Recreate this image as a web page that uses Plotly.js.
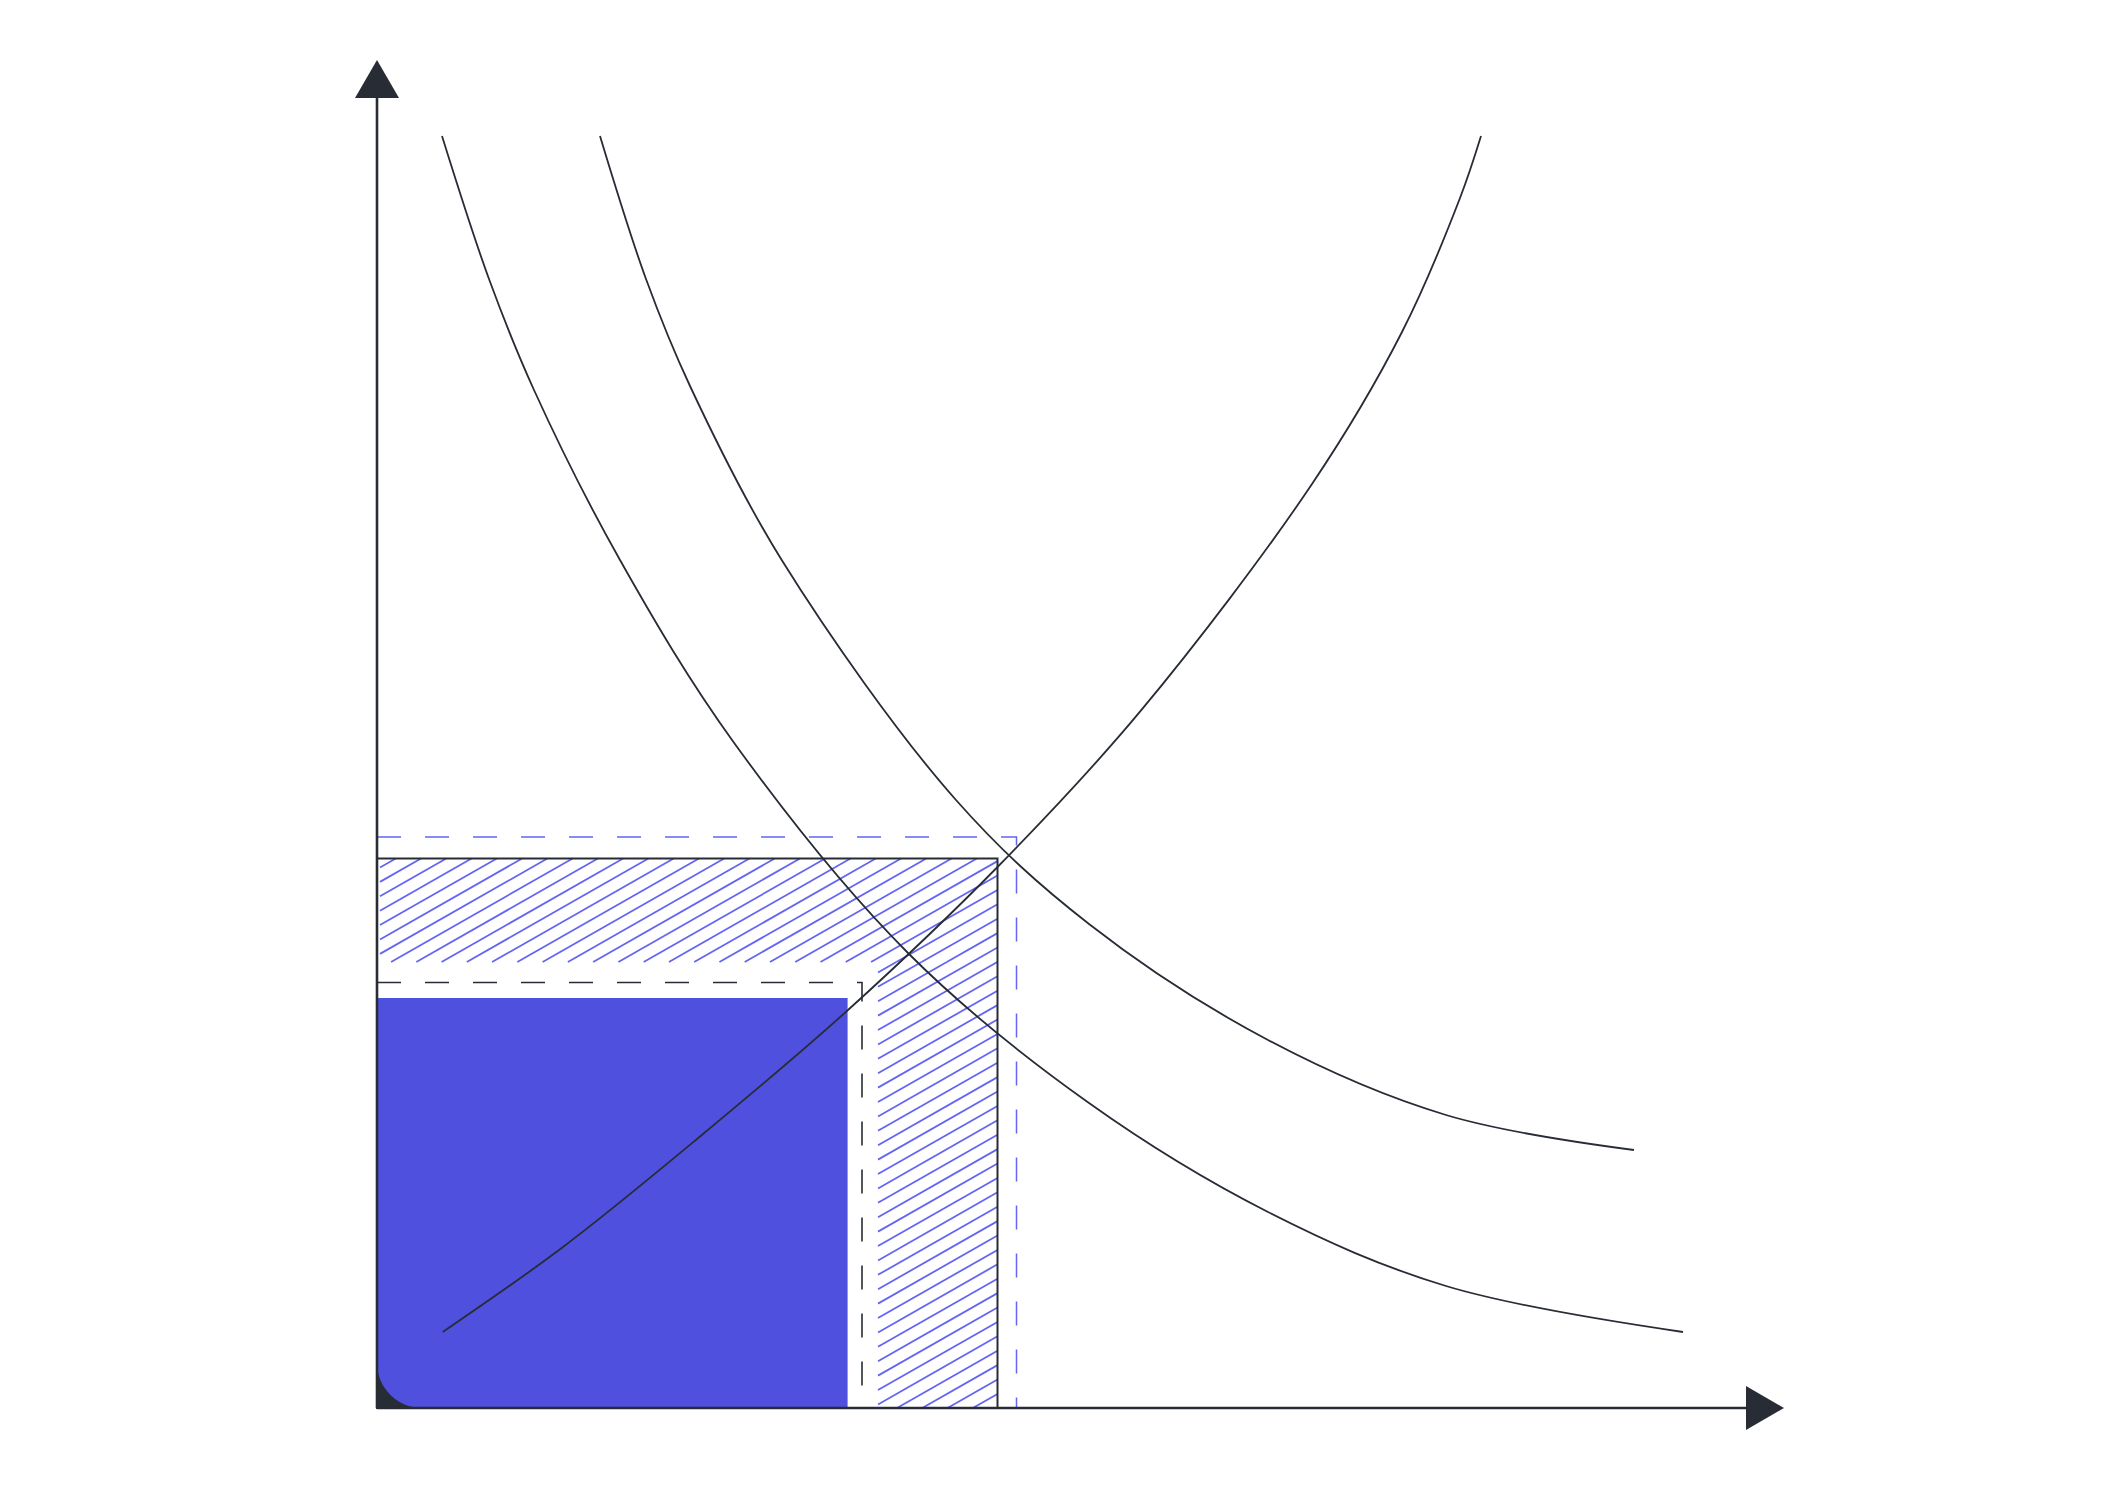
<!DOCTYPE html>
<html>
<head>
<meta charset="utf-8">
<script src="https://cdn.plot.ly/plotly-3.0.1.min.js"></script>
<style>html,body{margin:0;padding:0;background:#fff;}#chart{width:2101px;height:1501px;}</style>
</head>
<body>
<div id="chart"></div>
<script>
// ---- Data (quantity on x, price on y) ----
const supplyQ = [6.57, 18.6, 32.0, 47.1, 62.05, 76.3, 93.5, 102.5, 108.3, 110.4];
const supplyP = [7.6, 16.1, 26.9, 39.8, 54.1, 69.63, 92.4, 107.6, 121.0, 127.2];

const demand1Q = [6.5, 11.2, 15.7, 24.3, 35.63, 53.2, 71.2, 89.1, 106.9, 130.6];
const demand1P = [127.2, 112.9, 101.8, 84.8, 66.63, 45.4, 30.5, 19.6, 12.2, 7.6];

const demand2Q = [22.3, 26.9, 31.3, 40.47, 57.9, 71.2, 89.1, 106.9, 125.7];
const demand2P = [127.2, 112.9, 102.2, 84.8, 60.8, 48.4, 36.8, 29.3, 25.8];

// [quantity, price] corners of the areas
const filledArea = [47.06, 41.0];
const dashedBlackLevel = [48.5, 42.55];
const solidBox = [62.05, 54.95];
const dashedBlueLevel = [63.95, 57.1];
const hatchInner = [50.1, 44.6];
const cornerRadius = 4.5;
const axisEnd = [140.7, 134.8];

// ---- Styles ----
const DARK = '#272c35';
const INDIGO = '#6366f1';
const FILL = '#4f51de';

// hatch segments inside a rectangle, slope m, vertical spacing s
function hatch(x0, x1, y0, y1, m, s, phase) {
  const xs = [], ys = [];
  const bMin = y0 - m * x1, bMax = y1 - m * x0;
  let k = Math.ceil((bMin - phase) / s);
  for (let b = phase + k * s; b <= bMax; b += s) {
    let xa = Math.max(x0, (y0 - b) / m);
    let xb = Math.min(x1, (y1 - b) / m);
    if (xb - xa > 1e-6) {
      xs.push(xa, xb, null);
      ys.push(m * xa + b, m * xb + b, null);
    }
  }
  return [xs, ys];
}
const m = 0.57, sp = 1.44, ph = 0.6;
const h1 = hatch(0.3, solidBox[0], hatchInner[1], solidBox[1], m, sp, ph);
const h2 = hatch(hatchInner[0], solidBox[0], 0, hatchInner[1], m, sp, ph);

const lineStyle = {color: DARK, width: 1.8, shape: 'spline', smoothing: 1};

const traces = [
  {x: h1[0].concat(h2[0]), y: h1[1].concat(h2[1]), mode: 'lines', line: {color: INDIGO, width: 1.8}, hoverinfo: 'skip'},
  {x: supplyQ, y: supplyP, mode: 'lines', line: lineStyle, name: 'S'},
  {x: demand1Q, y: demand1P, mode: 'lines', line: lineStyle, name: 'D1'},
  {x: demand2Q, y: demand2P, mode: 'lines', line: lineStyle, name: 'D2'}
];

const r = cornerRadius;
const [fq, fp] = filledArea;
const shapes = [
  {type: 'rect', xref: 'x', yref: 'y', x0: 0, x1: r, y0: 0, y1: r, fillcolor: DARK, line: {width: 0}, layer: 'below'},
  {type: 'path', xref: 'x', yref: 'y', layer: 'below',
   path: `M ${r},0 L ${fq},0 L ${fq},${fp} L 0,${fp} L 0,${r} C 0,${r*0.45} ${r*0.45},0 ${r},0 Z`,
   fillcolor: FILL, line: {width: 0}},
  {type: 'path', xref: 'x', yref: 'y', path: `M 0,${dashedBlueLevel[1]} L ${dashedBlueLevel[0]},${dashedBlueLevel[1]} L ${dashedBlueLevel[0]},0`,
   line: {color: INDIGO, width: 1.5, dash: '24px,24px'}},
  {type: 'path', xref: 'x', yref: 'y', path: `M 0,${dashedBlackLevel[1]} L ${dashedBlackLevel[0]},${dashedBlackLevel[1]} L ${dashedBlackLevel[0]},0`,
   line: {color: DARK, width: 1.6, dash: '24px,24px'}},
  {type: 'rect', xref: 'x', yref: 'y', x0: 0, x1: solidBox[0], y0: 0, y1: solidBox[1], line: {color: DARK, width: 2}, fillcolor: 'rgba(0,0,0,0)'},
  {type: 'line', xref: 'x', yref: 'y', x0: 0, y0: 0, x1: 0, y1: axisEnd[1] - 3.8, line: {color: DARK, width: 2.6}},
  {type: 'line', xref: 'x', yref: 'y', x0: 0, y0: 0, x1: axisEnd[0] - 3.8, y1: 0, line: {color: DARK, width: 2.6}},
  {type: 'path', xref: 'x', yref: 'y', path: `M 0,${axisEnd[1]} L -2.2,${axisEnd[1]-3.8} L 2.2,${axisEnd[1]-3.8} Z`, fillcolor: DARK, line: {width: 0}},
  {type: 'path', xref: 'x', yref: 'y', path: `M ${axisEnd[0]},0 L ${axisEnd[0]-3.8},2.2 L ${axisEnd[0]-3.8},-2.2 Z`, fillcolor: DARK, line: {width: 0}}
];

const layout = {
  width: 2101, height: 1501,
  margin: {l: 337, r: 314, t: 53, b: 53, pad: 0},
  paper_bgcolor: '#ffffff', plot_bgcolor: '#ffffff',
  showlegend: false,
  xaxis: {range: [-4, 141], visible: false, showgrid: false, zeroline: false, fixedrange: true},
  yaxis: {range: [-4, 135.5], visible: false, showgrid: false, zeroline: false, fixedrange: true},
  shapes: shapes,
  hovermode: false
};

Plotly.newPlot('chart', traces, layout, {displayModeBar: false, staticPlot: true});
</script>
</body>
</html>
